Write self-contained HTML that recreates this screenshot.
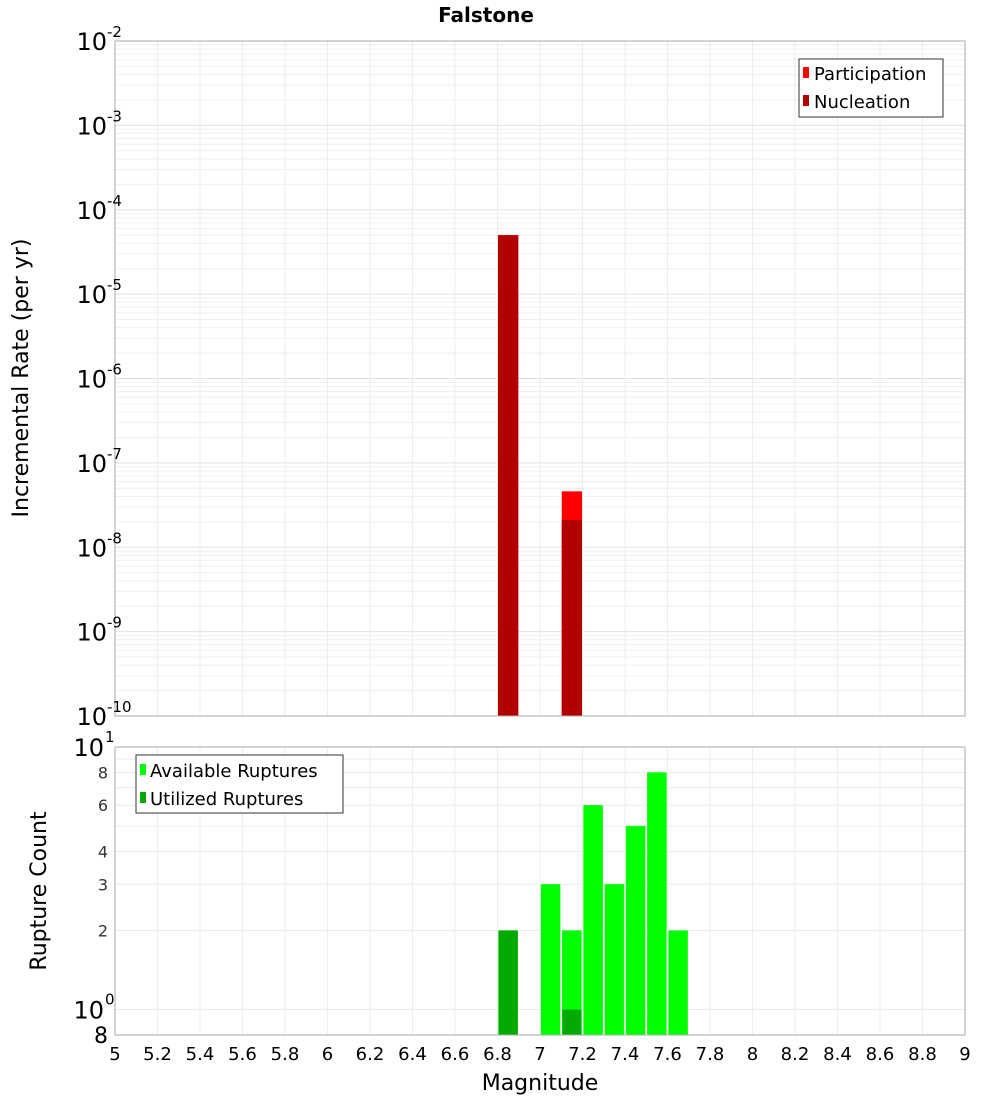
<!DOCTYPE html>
<html><head><meta charset="utf-8"><style>
body{margin:0;background:#fff;font-family:"DejaVu Sans","Liberation Sans",sans-serif}
svg text{font-family:"DejaVu Sans","Liberation Sans",sans-serif}
</style></head><body>
<svg id="c" width="1000" height="1100" xmlns="http://www.w3.org/2000/svg">
<text x="486" y="22" font-size="20" font-weight="bold" text-anchor="middle">Falstone</text>
<g id="topg"></g><g id="botg"></g><g id="xaxg"></g>
<text x="28" y="378" font-size="22" text-anchor="middle" transform="rotate(-90 28 378)">Incremental Rate (per yr)</text>
<text x="46" y="891" font-size="22" text-anchor="middle" transform="rotate(-90 46 891)">Rupture Count</text>
<text x="540" y="1090" font-size="22" text-anchor="middle">Magnitude</text>
<g>
<rect x="799" y="59" width="144" height="58" fill="#fff" stroke="#333"/>
<rect x="803" y="67" width="6" height="11" fill="#ff0000"/>
<text x="814" y="80" font-size="18">Participation</text>
<rect x="803" y="95" width="6" height="11" fill="#b20000"/>
<text x="814" y="108" font-size="18">Nucleation</text>
</g>
<g>
<rect x="136" y="755" width="207" height="58" fill="#fff" stroke="#333"/>
<rect x="140" y="764" width="6" height="11" fill="#00ff00"/>
<text x="150" y="777" font-size="18">Available Ruptures</text>
<rect x="140" y="792" width="6" height="11" fill="#00aa00"/>
<text x="150" y="805" font-size="18">Utilized Ruptures</text>
</g>
</svg>
<script>
const topMags=[6.85,7.15];
const participation=[5.0e-5,4.6e-8];
const nucleation=[5.0e-5,2.1e-8];
const botMags=[6.85,7.05,7.15,7.25,7.35,7.45,7.55,7.65];
const available=[2,3,2,6,3,5,8,2];
const utilized=[2,0,1,0,0,0,0,0];
const xTicks=[5,5.2,5.4,5.6,5.8,6,6.2,6.4,6.6,6.8,7,7.2,7.4,7.6,7.8,8,8.2,8.4,8.6,8.8,9];
const topExps=[-2,-3,-4,-5,-6,-7,-8,-9,-10];
const botTicks=[8,6,4,3,2];

const NS="http://www.w3.org/2000/svg";
const L=115,R=965,T1=41,B1=716,T2=747,B2=1035;
const X=m=>L+(m-5)/4*(R-L);
const Y1=v=>T1+(-2-Math.log10(v))/8*(B1-T1);
const Y2=v=>T2+(1-Math.log10(v))/Math.log10(10/0.8)*(B2-T2);
function mk(p,tag,a,txt){const e=document.createElementNS(NS,tag);for(const k in a)e.setAttribute(k,a[k]);if(txt!==undefined)e.textContent=txt;p.appendChild(e);return e;}
const topG=document.getElementById('topg'),botG=document.getElementById('botg'),xaxG=document.getElementById('xaxg');
for(let e=-10;e<-2;e++)for(let k=1;k<10;k++){const y=Y1(k*Math.pow(10,e));const g=mk(topG,'line',{x1:L,x2:R,y1:y,y2:y,stroke:k==1?'#e0e0e0':'#efefef','stroke-width':1});

}
for(const m of xTicks){const g=mk(topG,'line',{x1:X(m),x2:X(m),y1:T1,y2:B1,stroke:'#ececec'});


const g2=mk(botG,'line',{x1:X(m),x2:X(m),y1:T2,y2:B2,stroke:'#ececec'});

}
for(let k=1;k<=10;k++){const y=Y2(k);const g=mk(botG,'line',{x1:L,x2:R,y1:y,y2:y,stroke:'#ececec'});

}
topMags.forEach((m,i)=>{const x=X(m-0.05)+0.5,w=X(m+0.05)-X(m-0.05)-1;
const p=mk(topG,'rect',{x:x,y:Y1(participation[i]),width:w,height:B1-Y1(participation[i]),fill:'#ff0000'});


const n=mk(topG,'rect',{x:x,y:Y1(nucleation[i]),width:w,height:B1-Y1(nucleation[i]),fill:'#b20000'});

});
botMags.forEach((m,i)=>{const x=X(m-0.05)+1,w=X(m+0.05)-X(m-0.05)-2;
const a=mk(botG,'rect',{x:x,y:Y2(available[i]),width:w,height:B2-Y2(available[i]),fill:'#00ff00',stroke:'#55ee55','stroke-width':0.5});


if(utilized[i]>0){const u=mk(botG,'rect',{x:x,y:Y2(utilized[i]),width:w,height:B2-Y2(utilized[i]),fill:'#00aa00'});

}});
mk(topG,'rect',{x:L,y:T1,width:R-L,height:B1-T1,fill:'none',stroke:'#aaa'});
mk(botG,'rect',{x:L,y:T2,width:R-L,height:B2-T2,fill:'none',stroke:'#aaa'});
topExps.forEach(e=>{const y=Y1(Math.pow(10,e));
const t=mk(topG,'text',{x:107,y:y+9,'font-size':24,'text-anchor':'end'},'10');


const s=mk(topG,'text',{x:107,y:y-4,'font-size':15,'text-anchor':'start'},String(e));

});
botTicks.forEach(v=>{const t=mk(botG,'text',{x:108,y:Y2(v)+6,'font-size':16,'text-anchor':'end',fill:'#333'},String(v));

});
[[10,'1'],[1,'0']].forEach(([v,e])=>{const y=Y2(v);
const t=mk(botG,'text',{x:104,y:y+9,'font-size':24,'text-anchor':'end'},'10');


const s=mk(botG,'text',{x:105,y:y-5,'font-size':15},e);

});
{const t=mk(botG,'text',{x:108,y:B2+8,'font-size':22,'text-anchor':'end'},'8');

}
xTicks.forEach(m=>{const t=mk(xaxG,'text',{x:X(m),y:1060,'font-size':18,'text-anchor':'middle'},String(m));

});
</script>
</body></html>
